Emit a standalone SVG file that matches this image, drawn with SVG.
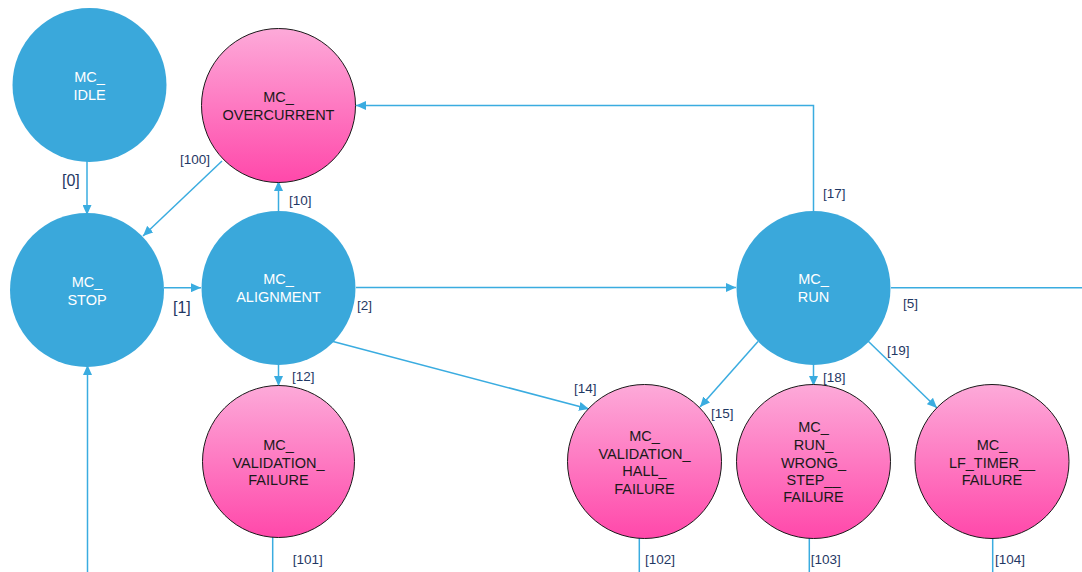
<svg xmlns="http://www.w3.org/2000/svg" width="1082" height="572" viewBox="0 0 1082 572">
<style>
.blue{fill:#3AA8DB}
.pink{fill:url(#pg);stroke:#1a1a1a;stroke-width:1}
.wt{fill:#ffffff;font-family:"Liberation Sans",Arial,sans-serif;font-size:14.5px;text-anchor:middle}
.bt{fill:#1a1a1a;font-family:"Liberation Sans",Arial,sans-serif;font-size:14.5px;text-anchor:middle}
.c{stroke:#3AACE0;stroke-width:1.5;fill:none}
.a{marker-end:url(#ah)}
.lb{fill:#1F3864;font-family:"Liberation Sans",Arial,sans-serif;font-size:13.5px}
.lb2{fill:#1F3864;font-family:"Liberation Sans",Arial,sans-serif;font-size:16px}
</style>
<defs>
<linearGradient id="pg" x1="0" y1="0" x2="0" y2="1">
<stop offset="0" stop-color="#FDAAD9"/>
<stop offset="1" stop-color="#FF48AA"/>
</linearGradient>
<marker id="ah" markerUnits="userSpaceOnUse" markerWidth="10" markerHeight="9" refX="10" refY="4.5" orient="auto">
<path d="M0,0 L10,4.5 L0,9 z" fill="#3AACE0"/>
</marker>
</defs>
<rect width="1082" height="572" fill="#ffffff"/>
<g id="connectors">
<line class="c a" x1="87" y1="161" x2="87" y2="215"/>
<line class="c a" x1="222" y1="161" x2="143" y2="236"/>
<line class="c a" x1="278.5" y1="213" x2="278.5" y2="181"/>
<line class="c a" x1="164" y1="287.7" x2="201" y2="287.7"/>
<line class="c a" x1="356" y1="287.5" x2="736" y2="287.5"/>
<line class="c a" x1="278.5" y1="363" x2="278.5" y2="386"/>
<line class="c a" x1="333" y1="341.5" x2="589" y2="409"/>
<line class="c a" x1="758" y1="341.5" x2="700" y2="407"/>
<line class="c a" x1="813.5" y1="363" x2="813.5" y2="386"/>
<line class="c a" x1="868" y1="341" x2="937" y2="408"/>
<polyline class="c a" points="813.5,213 813.5,105.5 356,105.5"/>
<line class="c" x1="891" y1="287.7" x2="1082" y2="287.7"/>
<line class="c" x1="272.7" y1="537" x2="272.7" y2="572"/>
<line class="c" x1="639.3" y1="537" x2="639.3" y2="572"/>
<line class="c" x1="809.3" y1="537" x2="809.3" y2="572"/>
<line class="c" x1="992.7" y1="537" x2="992.7" y2="572"/>
<line class="c a" x1="87.5" y1="572" x2="87.5" y2="365"/>
<text class="lb2" x="62" y="186">[0]</text>
<text class="lb" x="180" y="164">[100]</text>
<text class="lb" x="289" y="205">[10]</text>
<text class="lb2" x="173" y="313">[1]</text>
<text class="lb" x="357" y="310">[2]</text>
<text class="lb" x="292" y="381">[12]</text>
<text class="lb" x="574" y="393">[14]</text>
<text class="lb" x="711" y="418">[15]</text>
<text class="lb" x="823" y="382">[18]</text>
<text class="lb" x="887" y="355">[19]</text>
<text class="lb" x="823" y="198">[17]</text>
<text class="lb" x="903" y="308">[5]</text>
<text class="lb" x="292.7" y="564">[101]</text>
<text class="lb" x="645" y="564">[102]</text>
<text class="lb" x="810.7" y="564">[103]</text>
<text class="lb" x="995" y="564">[104]</text>
</g>
<g id="mc_idle">
<circle class="blue" cx="89.5" cy="85" r="77"/>
<text class="wt" x="89.5" y="82">MC_</text>
<text class="wt" x="89.5" y="99.5">IDLE</text>
</g>
<g id="mc_overcurrent">
<circle class="pink" cx="278.5" cy="105.5" r="77"/>
<text class="bt" x="278.5" y="101.7">MC_</text>
<text class="bt" x="278.5" y="120">OVERCURRENT</text>
</g>
<g id="mc_stop">
<circle class="blue" cx="87" cy="290" r="77"/>
<text class="wt" x="87" y="287.3">MC_</text>
<text class="wt" x="87" y="305">STOP</text>
</g>
<g id="mc_alignment">
<circle class="blue" cx="278.5" cy="288" r="77"/>
<text class="wt" x="278.5" y="284.3">MC_</text>
<text class="wt" x="278.5" y="302">ALIGNMENT</text>
</g>
<g id="mc_run">
<circle class="blue" cx="813.5" cy="288" r="77"/>
<text class="wt" x="813.5" y="284.3">MC_</text>
<text class="wt" x="813.5" y="302.3">RUN</text>
</g>
<g id="mc_validation_failure">
<circle class="pink" cx="278.5" cy="461.5" r="76"/>
<text class="bt" x="278.5" y="450">MC_</text>
<text class="bt" x="278.5" y="467.5">VALIDATION_</text>
<text class="bt" x="278.5" y="485">FAILURE</text>
</g>
<g id="mc_validation_hall_failure">
<circle class="pink" cx="644.5" cy="461.5" r="77"/>
<text class="bt" x="644.5" y="441">MC_</text>
<text class="bt" x="644.5" y="458.5">VALIDATION_</text>
<text class="bt" x="644.5" y="476">HALL_</text>
<text class="bt" x="644.5" y="493.5">FAILURE</text>
</g>
<g id="mc_run_wrong_step_failure">
<circle class="pink" cx="813.5" cy="461.5" r="77"/>
<text class="bt" x="813.5" y="432.3">MC_</text>
<text class="bt" x="813.5" y="450">RUN_</text>
<text class="bt" x="813.5" y="467.5">WRONG_</text>
<text class="bt" x="813.5" y="485">STEP__</text>
<text class="bt" x="813.5" y="502.3">FAILURE</text>
</g>
<g id="mc_lf_timer_failure">
<circle class="pink" cx="992" cy="461.5" r="77"/>
<text class="bt" x="992" y="450">MC_</text>
<text class="bt" x="992" y="467.5">LF_TIMER__</text>
<text class="bt" x="992" y="485">FAILURE</text>
</g>
</svg>
